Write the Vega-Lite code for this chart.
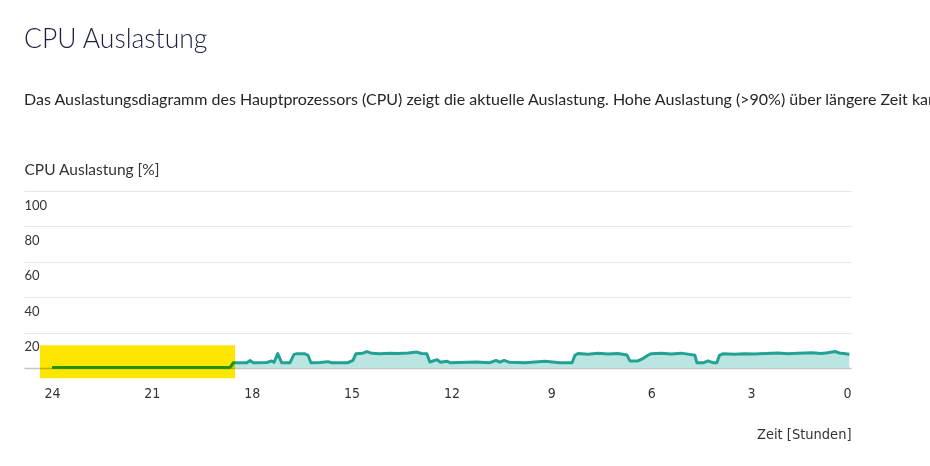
{
  "$schema": "https://vega.github.io/schema/vega-lite/v6.json",
  "autosize": "none",
  "width": 827,
  "height": 177,
  "padding": {"left": 24, "top": 191, "right": 79, "bottom": 98},
  "background": "white",
  "config": {"view": {"stroke": null}},
  "title": {
    "text": "CPU Auslastung",
    "subtitle": "Das Auslastungsdiagramm des Hauptprozessors (CPU) zeigt die aktuelle Auslastung. Hohe Auslastung (>90%) über längere Zeit kann zu Leistungseinbußen führen.",
    "anchor": "start",
    "frame": "group",
    "font": "Lato",
    "fontSize": 26.5,
    "fontWeight": 300,
    "color": "#1c2142",
    "subtitleFont": "Lato",
    "subtitleFontSize": 16,
    "subtitleColor": "#262626",
    "subtitlePadding": 39,
    "offset": 54
  },
  "datasets": {
    "cpu": [
      {"stunden": 24.00, "auslastung": 0.3},
      {"stunden": 18.65, "auslastung": 0.3},
      {"stunden": 18.55, "auslastung": 3.0},
      {"stunden": 18.15, "auslastung": 3.0},
      {"stunden": 18.05, "auslastung": 4.2},
      {"stunden": 17.95, "auslastung": 3.0},
      {"stunden": 17.55, "auslastung": 3.1},
      {"stunden": 17.40, "auslastung": 4.0},
      {"stunden": 17.33, "auslastung": 3.2},
      {"stunden": 17.22, "auslastung": 8.1},
      {"stunden": 17.10, "auslastung": 3.0},
      {"stunden": 16.85, "auslastung": 3.0},
      {"stunden": 16.73, "auslastung": 7.7},
      {"stunden": 16.64, "auslastung": 8.1},
      {"stunden": 16.40, "auslastung": 8.0},
      {"stunden": 16.31, "auslastung": 7.2},
      {"stunden": 16.22, "auslastung": 3.0},
      {"stunden": 15.95, "auslastung": 3.1},
      {"stunden": 15.71, "auslastung": 3.6},
      {"stunden": 15.60, "auslastung": 3.0},
      {"stunden": 15.11, "auslastung": 3.0},
      {"stunden": 14.96, "auslastung": 4.3},
      {"stunden": 14.87, "auslastung": 8.1},
      {"stunden": 14.66, "auslastung": 8.4},
      {"stunden": 14.54, "auslastung": 9.3},
      {"stunden": 14.39, "auslastung": 8.3},
      {"stunden": 14.15, "auslastung": 8.1},
      {"stunden": 13.85, "auslastung": 8.4},
      {"stunden": 13.60, "auslastung": 8.2},
      {"stunden": 13.30, "auslastung": 8.5},
      {"stunden": 13.04, "auslastung": 9.0},
      {"stunden": 12.90, "auslastung": 8.2},
      {"stunden": 12.74, "auslastung": 8.1},
      {"stunden": 12.65, "auslastung": 3.4},
      {"stunden": 12.43, "auslastung": 4.7},
      {"stunden": 12.34, "auslastung": 3.3},
      {"stunden": 12.13, "auslastung": 3.8},
      {"stunden": 12.04, "auslastung": 3.0},
      {"stunden": 11.25, "auslastung": 3.4},
      {"stunden": 10.85, "auslastung": 3.0},
      {"stunden": 10.66, "auslastung": 4.3},
      {"stunden": 10.55, "auslastung": 3.3},
      {"stunden": 10.42, "auslastung": 4.3},
      {"stunden": 10.27, "auslastung": 3.3},
      {"stunden": 9.80, "auslastung": 3.0},
      {"stunden": 9.19, "auslastung": 3.8},
      {"stunden": 8.74, "auslastung": 3.0},
      {"stunden": 8.38, "auslastung": 3.0},
      {"stunden": 8.29, "auslastung": 7.2},
      {"stunden": 8.20, "auslastung": 8.2},
      {"stunden": 7.90, "auslastung": 7.8},
      {"stunden": 7.60, "auslastung": 8.3},
      {"stunden": 7.30, "auslastung": 7.9},
      {"stunden": 7.00, "auslastung": 8.2},
      {"stunden": 6.73, "auslastung": 7.3},
      {"stunden": 6.64, "auslastung": 4.0},
      {"stunden": 6.40, "auslastung": 4.0},
      {"stunden": 6.25, "auslastung": 5.3},
      {"stunden": 6.10, "auslastung": 7.2},
      {"stunden": 6.00, "auslastung": 8.1},
      {"stunden": 5.70, "auslastung": 8.3},
      {"stunden": 5.40, "auslastung": 7.9},
      {"stunden": 5.10, "auslastung": 8.4},
      {"stunden": 4.85, "auslastung": 7.7},
      {"stunden": 4.69, "auslastung": 7.2},
      {"stunden": 4.63, "auslastung": 3.0},
      {"stunden": 4.42, "auslastung": 3.0},
      {"stunden": 4.30, "auslastung": 4.0},
      {"stunden": 4.15, "auslastung": 3.0},
      {"stunden": 4.03, "auslastung": 3.0},
      {"stunden": 3.95, "auslastung": 7.2},
      {"stunden": 3.84, "auslastung": 8.1},
      {"stunden": 3.50, "auslastung": 7.8},
      {"stunden": 3.20, "auslastung": 8.1},
      {"stunden": 2.90, "auslastung": 7.9},
      {"stunden": 2.55, "auslastung": 8.2},
      {"stunden": 2.19, "auslastung": 8.5},
      {"stunden": 1.90, "auslastung": 8.0},
      {"stunden": 1.60, "auslastung": 8.3},
      {"stunden": 1.17, "auslastung": 8.6},
      {"stunden": 0.90, "auslastung": 8.2},
      {"stunden": 0.70, "auslastung": 8.6},
      {"stunden": 0.48, "auslastung": 9.3},
      {"stunden": 0.35, "auslastung": 8.5},
      {"stunden": 0.05, "auslastung": 7.8}
    ],
    "markierung": [
      {"von": 24.36, "bis": 18.5, "unten": -5.8, "oben": 12.8}
    ]
  },
  "layer": [
    {
      "data": {"name": "cpu"},
      "mark": {
        "type": "area",
        "color": "#bce4e0",
        "opacity": 1,
        "line": {"color": "#22a295", "strokeWidth": 3, "strokeJoin": "round"}
      },
      "encoding": {
        "x": {
          "field": "stunden",
          "type": "quantitative",
          "scale": {"domain": [24.84, 0], "nice": false, "zero": false},
          "axis": {
            "values": [24, 21, 18, 15, 12, 9, 6, 3, 0],
            "tickCount": 30,
            "grid": false,
            "ticks": false,
            "tickSize": 0,
            "domain": true,
            "domainColor": "#c4c4c4",
            "domainWidth": 1.5,
            "labelOverlap": false,
            "labelFont": "DejaVu Sans Condensed, Liberation Sans Narrow, Roboto Condensed, Roboto, sans-serif",
            "labelFontSize": 14,
            "labelColor": "#333333",
            "labelPadding": 18,
            "labelBaseline": "top",
            "title": "Zeit [Stunden]",
            "titleFont": "DejaVu Sans Condensed, Liberation Sans Narrow, Roboto Condensed, Roboto, sans-serif",
            "titleFontSize": 14.5,
            "titleFontWeight": "normal",
            "titleColor": "#333333",
            "titleAnchor": "end",
            "titleAlign": "right",
            "titleBaseline": "alphabetic",
            "titleX": 827,
            "titleY": 70
          }
        },
        "y": {
          "field": "auslastung",
          "type": "quantitative",
          "scale": {"domain": [0, 100], "nice": false},
          "axis": {
            "values": [0, 20, 40, 60, 80, 100],
            "tickCount": 20,
            "labelExpr": "datum.value == 0 ? '' : datum.label",
            "labelOverlap": false,
            "labelBound": false,
            "grid": true,
            "gridColor": "#e6e6e6",
            "gridWidth": 1,
            "ticks": false,
            "tickSize": 0,
            "domain": false,
            "labelAlign": "left",
            "labelBaseline": "middle",
            "labelPadding": 0,
            "labelOffset": 14,
            "labelFont": "Lato",
            "labelFontSize": 13,
            "labelColor": "#333333",
            "title": "CPU Auslastung [%]",
            "titleAngle": 0,
            "titleAlign": "left",
            "titleBaseline": "alphabetic",
            "titleX": 0,
            "titleY": -17,
            "titleFont": "Lato",
            "titleFontSize": 15.5,
            "titleFontWeight": "normal",
            "titleColor": "#333333"
          }
        }
      }
    },
    {
      "data": {"name": "markierung"},
      "mark": {"type": "rect", "color": "#ffe600", "blend": "multiply", "opacity": 1},
      "encoding": {
        "x": {"field": "von", "type": "quantitative"},
        "x2": {"field": "bis"},
        "y": {"field": "unten", "type": "quantitative"},
        "y2": {"field": "oben"}
      }
    }
  ]
}
